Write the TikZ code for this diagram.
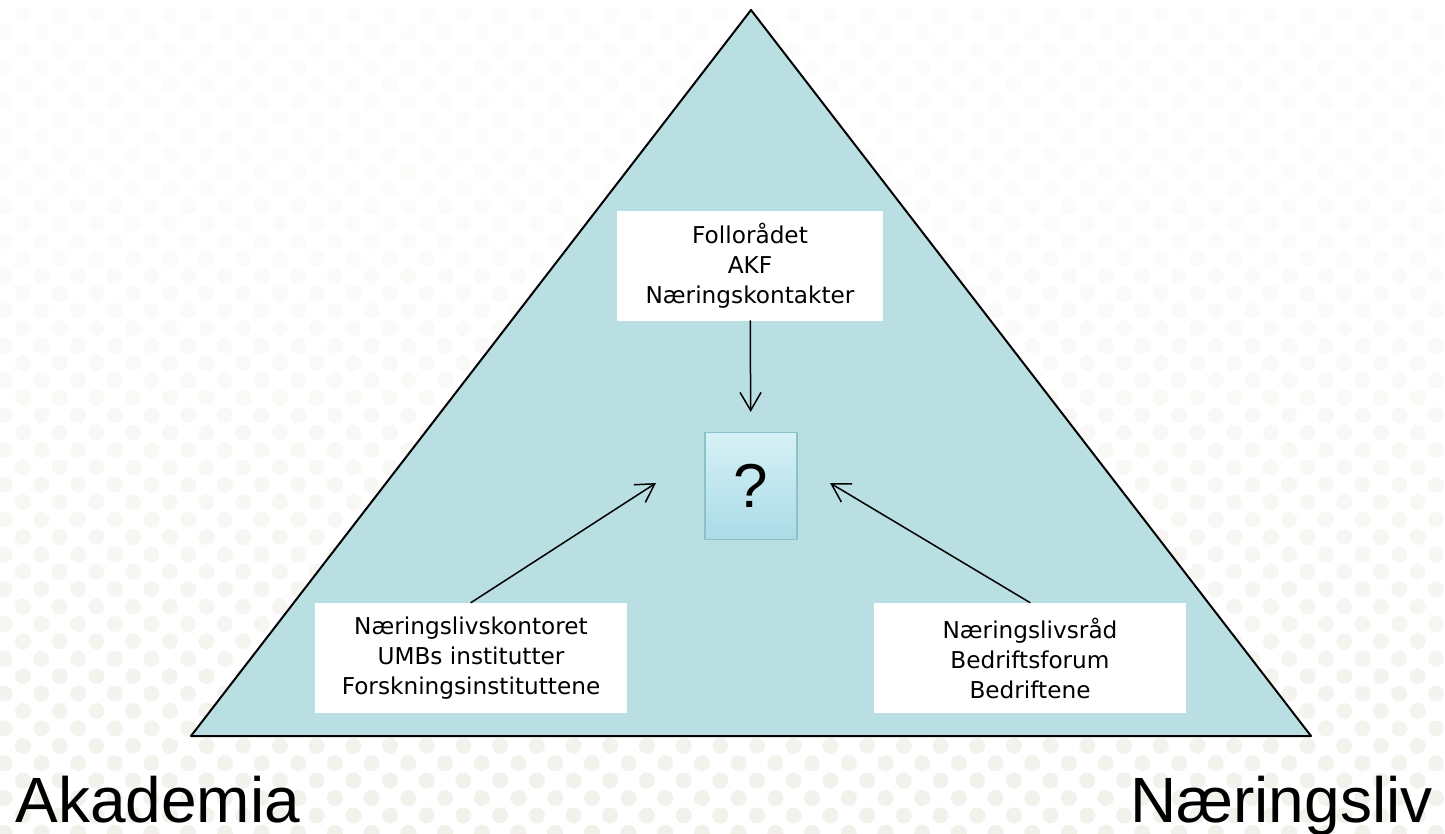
\documentclass[tikz,border=0pt]{standalone}
\usepackage{fontspec}
\setmainfont{Liberation Sans}
\newfontfamily\boxfont{DejaVu Sans}
\usetikzlibrary{arrows.meta}
\definecolor{tri}{RGB}{185,223,226}
\definecolor{dotc}{RGB}{226,224,212}
\definecolor{qtop}{RGB}{214,241,246}
\definecolor{qbot}{RGB}{170,219,230}
\definecolor{qedge}{RGB}{140,192,203}
\begin{document}
\begin{tikzpicture}[line cap=round,line join=round,>={Straight Barb[length=9pt,width=10.5pt]},x=.5pt,y=-.5pt,
	actor/.style={fill=white,align=center,font=\boxfont\fontsize{11.6}{15}\selectfont,inner sep=0pt},
	qbox/.style={top color=qtop,bottom color=qbot,draw=qedge,line width=.6pt,minimum width=46pt,minimum height=53.5pt,inner sep=0pt,font=\fontsize{31}{34}\selectfont},
	side/.style={font=\fontsize{32}{36}\selectfont,inner sep=0pt},
	link/.style={->,line width=.75pt}]
	\useasboundingbox (0,0) rectangle (1445,834);
	\fill[white] (0,0) rectangle (1445,834);
	\foreach \r in {0,...,47}{
		\pgfmathsetmacro\yy{15+17.4*\r}
		\pgfmathtruncatemacro\pc{8+40*(\r/47)^1.5}
		\pgfmathsetmacro\xo{mod(\r,2)==0 ? 23 : 4.65}
		\foreach \c in {0,...,40}
			\fill[dotc!\pc!white] (\xo+36.7*\c,\yy) circle (4pt);
	}
	\coordinate (apex) at (751,10);
	\coordinate (bl) at (191,736);
	\coordinate (br) at (1311,736);
	\draw[fill=tri,line width=1pt] (apex) -- (bl) -- (br) -- cycle;
	\node[actor,minimum width=133pt,minimum height=54.5pt] (follo) at (750,266) {Follorådet\\AKF\\Næringskontakter};
	\node[actor,minimum width=156pt,minimum height=55pt] (akad) at (471,658) {Næringslivskontoret\\UMBs institutter\\Forskningsinstituttene};
	\node[actor,minimum width=156pt,minimum height=55pt] (naer) at (1030,658) {Næringslivsråd\\Bedriftsforum\\Bedriftene};
	\node[qbox] (q) at (751,486) {?};
	\coordinate (qinl) at (656,483);
	\coordinate (qinr) at (830,483);
	\draw[link,shorten >=10pt] (follo) -- (q);
	\draw[link] (akad.north) -- (qinl);
	\draw[link] (naer.north) -- (qinr);
	\node[side,anchor=base west] (akademia) at (15,822) {Akademia};
	\node[side,anchor=base east] (naeringsliv) at (1433,822) {Næringsliv};
\end{tikzpicture}
\end{document}
